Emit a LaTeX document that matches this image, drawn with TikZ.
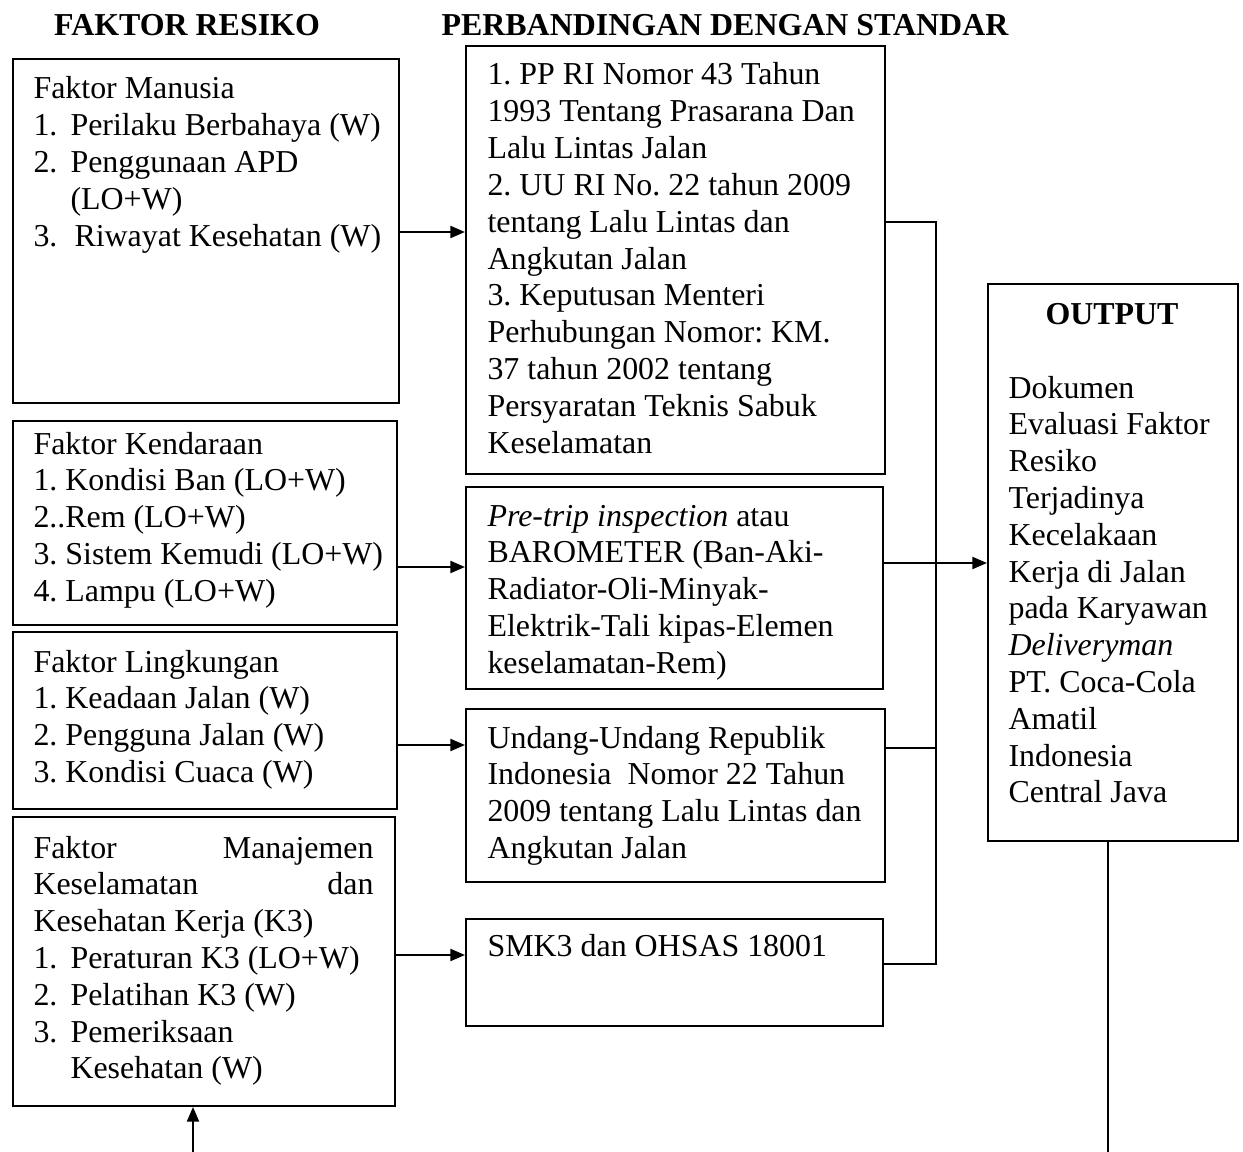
\documentclass[tikz,border=0pt]{standalone}
\usepackage{fontspec}
\setmainfont{Liberation Serif}
\usetikzlibrary{arrows.meta}
\newlength{\pxu}\setlength{\pxu}{0.376pt}
\begin{document}
\frenchspacing
\begin{tikzpicture}[x=0.376pt,y=-0.376pt,
 box/.style={draw,line width=0.75pt,inner sep=0pt,anchor=north west},
 txt/.style={inner sep=0pt,anchor=base west,align=flush left,text width=#1,font=\fontsize{12}{13.84}\selectfont\frenchspacing},
 txt/.default=400\pxu,
 ttl/.style={inner sep=0pt,anchor=base,font=\fontsize{12}{13.84}\selectfont\bfseries},
 arr/.style={line width=0.8pt,-{Triangle[length=5.5pt,width=4.5pt]}},
 ln/.style={line width=0.75pt}]
\useasboundingbox (0,0) rectangle (1243,1152);

% titles
\node[ttl] (h1) at (187,36) {FAKTOR RESIKO};
\node[ttl] (h2) at (725,36) {PERBANDINGAN DENGAN STANDAR};

% left boxes
\node[box,minimum width=386\pxu,minimum height=344\pxu] (B1) at (12,58) {};
\node[box,minimum width=384\pxu,minimum height=204\pxu] (B2) at (12,420) {};
\node[box,minimum width=384\pxu,minimum height=177\pxu] (B3) at (12,631) {};
\node[box,minimum width=382\pxu,minimum height=289\pxu] (B4) at (12,816) {};

% middle boxes
\node[box,minimum width=419\pxu,minimum height=428\pxu] (M1) at (465,45) {};
\node[box,minimum width=417\pxu,minimum height=202\pxu] (M2) at (465,486) {};
\node[box,minimum width=419\pxu,minimum height=173\pxu] (M3) at (465,708) {};
\node[box,minimum width=417\pxu,minimum height=107\pxu] (M4) at (465,918) {};

% output box
\node[box,minimum width=250\pxu,minimum height=557\pxu] (Out) at (987,283) {};

% texts
\node[txt] (t1) at (33,99) {Faktor Manusia\\
\makebox[37\pxu][l]{1.}Perilaku Berbahaya (W)\\
\makebox[37\pxu][l]{2.}Penggunaan APD\\
\hspace*{37\pxu}(LO+W)\\
\makebox[41\pxu][l]{3.}Riwayat Kesehatan (W)};

\node[txt] (t2) at (33,454) {Faktor Kendaraan\\
1. Kondisi Ban (LO+W)\\
2..Rem (LO+W)\\
3. Sistem Kemudi (LO+W)\\
4. Lampu (LO+W)};

\node[txt] (t3) at (33,672) {Faktor Lingkungan\\
1. Keadaan Jalan (W)\\
2. Pengguna Jalan (W)\\
3. Kondisi Cuaca (W)};

\node[txt=340\pxu] (t4) at (33,858) {Faktor\hfill Manajemen\\
Keselamatan\hfill dan\\
Kesehatan Kerja (K3)\\
\makebox[37\pxu][l]{1.}Peraturan K3 (LO+W)\\
\makebox[37\pxu][l]{2.}Pelatihan K3 (W)\\
\makebox[37\pxu][l]{3.}Pemeriksaan\\
\hspace*{37\pxu}Kesehatan (W)};

\node[txt] (t5) at (487,85) {1. PP RI Nomor 43 Tahun\\
1993 Tentang Prasarana Dan\\
Lalu Lintas Jalan\\
2. UU RI No. 22 tahun 2009\\
tentang Lalu Lintas dan\\
Angkutan Jalan\\
3. Keputusan Menteri\\
Perhubungan Nomor: KM.\\
37 tahun 2002 tentang\\
Persyaratan Teknis Sabuk\\
Keselamatan};

\node[txt] (t6) at (487,526) {\textit{Pre-trip inspection} atau\\
BAROMETER (Ban-Aki-\\
Radiator-Oli-Minyak-\\
Elektrik-Tali kipas-Elemen\\
keselamatan-Rem)};

\node[txt] (t7) at (487,748) {Undang-Undang Republik\\
Indonesia\ \ Nomor 22 Tahun\\
2009 tentang Lalu Lintas dan\\
Angkutan Jalan};

\node[txt] (t8) at (487,956) {SMK3 dan OHSAS 18001};

\node[ttl] (to) at (1112,324) {OUTPUT};
\node[txt=220\pxu] (t9) at (1008,398) {Dokumen\\
Evaluasi Faktor\\
Resiko\\
Terjadinya\\
Kecelakaan\\
Kerja di Jalan\\
pada Karyawan\\
\textit{Deliveryman}\\
PT. Coca-Cola\\
Amatil\\
Indonesia\\
Central Java};

% connectors
\draw[arr] (B1.east |- 0,232) -- (M1.west |- 0,232);
\draw[arr] (B2.east |- 0,567) -- (M2.west |- 0,567);
\draw[arr] (B3.east |- 0,745) -- (M3.west |- 0,745);
\draw[arr] (B4.east |- 0,955) -- (M4.west |- 0,955);

\coordinate (bus) at (936,0);
\draw[ln] (M1.east |- 0,222) -- (bus |- 0,222) -- (bus |- 0,964) -- (M4.east |- 0,964);
\draw[ln] (M3.east |- 0,748) -- (bus |- 0,748);
\draw[arr] (M2.east |- 0,563) -- (Out.west |- 0,563);

\coordinate (fb) at (193,1152);
\coordinate (ob) at (1108,1152);
\draw[ln] (Out.south -| ob) -- (ob);
\draw[arr] (fb) -- (B4.south -| fb);
\end{tikzpicture}
\end{document}
